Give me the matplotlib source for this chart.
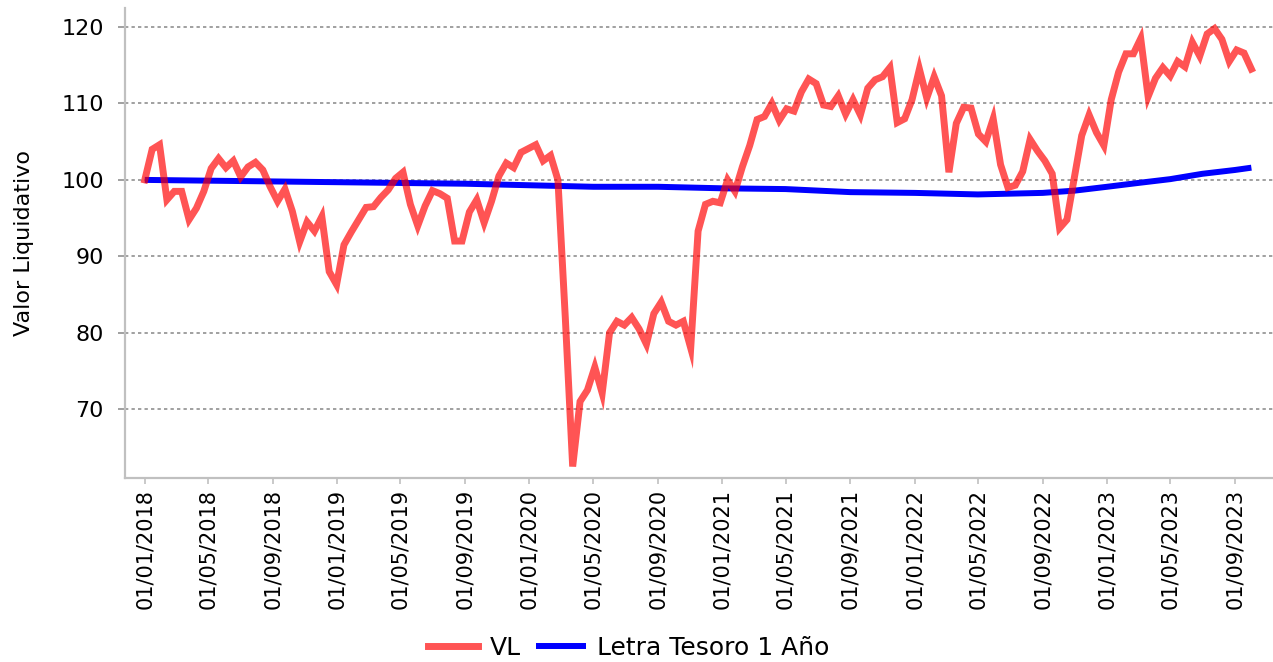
import numpy as np
import pandas as pd
import matplotlib
matplotlib.use("Agg")
import matplotlib.pyplot as plt
import matplotlib.dates as mdates

# VL (valor liquidativo), one reading every 14 days from 01/01/2018
vl_start = "2018-01-01"
vl_values = [
    100.0, 104.0, 104.6, 97.4, 98.5, 98.5, 94.8, 96.3, 98.5, 101.5,
    102.8, 101.6, 102.5, 100.4, 101.7, 102.3, 101.3, 99.1, 97.2, 98.8,
    95.9, 91.9, 94.5, 93.3, 95.2, 88.0, 86.3, 91.5, 93.2, 94.8,
    96.4, 96.5, 97.7, 98.7, 100.2, 101.0, 96.8, 94.0, 96.6, 98.6,
    98.2, 97.6, 92.0, 92.0, 95.8, 97.4, 94.4, 97.2, 100.5, 102.2,
    101.6, 103.6, 104.1, 104.6, 102.5, 103.2, 100.0, 82.0, 62.5, 71.0,
    72.5, 75.5, 72.1, 80.0, 81.5, 81.0, 82.0, 80.5, 78.5, 82.5,
    84.0, 81.5, 81.0, 81.5, 78.0, 93.3, 96.8, 97.2, 97.0, 100.0,
    98.5, 101.7, 104.5, 107.9, 108.3, 110.0, 107.8, 109.3, 109.0, 111.5,
    113.2, 112.6, 109.8, 109.6, 111.0, 108.6, 110.5, 108.5, 112.0, 113.1,
    113.5, 114.7, 107.5, 108.0, 110.5, 114.5, 110.7, 113.5, 111.0, 101.0,
    107.4, 109.5, 109.4, 106.0, 105.0, 108.0, 102.0, 99.0, 99.3, 101.1,
    105.3, 103.8, 102.5, 100.8, 93.7, 94.8, 100.3, 105.8, 108.5, 106.2,
    104.5, 110.5, 114.1, 116.5, 116.5, 118.5, 110.9, 113.3, 114.7, 113.6,
    115.5, 114.8, 118.0, 116.2, 119.1, 119.8, 118.4, 115.5, 117.0, 116.6,
    114.5,
]

# Letra del Tesoro a 1 anyo
letra_dates = [
    "2018-01-01", "2018-05-01", "2018-09-01", "2019-01-01", "2019-05-01",
    "2019-09-01", "2020-01-01", "2020-05-01", "2020-09-01", "2021-01-01",
    "2021-05-01", "2021-09-01", "2022-01-01", "2022-05-01", "2022-09-01",
    "2022-11-01", "2023-01-01", "2023-03-01", "2023-05-01", "2023-07-01",
    "2023-09-01", "2023-10-02",
]
letra_values = [
    100.0, 99.9, 99.8, 99.7, 99.6,
    99.5, 99.3, 99.1, 99.1, 98.9,
    98.8, 98.4, 98.3, 98.1, 98.3,
    98.6, 99.1, 99.6, 100.1, 100.8,
    101.3, 101.6,
]

tick_dates = pd.date_range("2018-01-01", "2023-09-01", freq="4MS")
y_ticks = [70, 80, 90, 100, 110, 120]

vl_dates = pd.date_range(vl_start, periods=len(vl_values), freq="14D")
letra_dates = pd.to_datetime(letra_dates)

fig = plt.figure(figsize=(12.73, 6.62), dpi=100)
ax = fig.add_axes([0.098, 0.278, 0.902, 0.71])

ax.plot(letra_dates, letra_values, color="#0000ff", lw=4.3,
        label="Letra Tesoro 1 Año", zorder=2, solid_capstyle="butt")
ax.plot(vl_dates, vl_values, color="red", alpha=0.67, lw=5,
        label="VL", zorder=3, solid_joinstyle="miter")

ax.set_xlim(pd.Timestamp("2017-11-24"), pd.Timestamp("2023-11-12"))
ax.set_ylim(61.0, 122.5)

ax.set_yticks(y_ticks)
ax.set_xticks(tick_dates)
ax.xaxis.set_major_formatter(mdates.DateFormatter("%d/%m/%Y"))

ax.yaxis.grid(True, color="#909090", lw=1.2, linestyle=(0, (2, 1.9)))
ax.set_axisbelow(True)

for s in ["top", "right"]:
    ax.spines[s].set_visible(False)
for s in ["left", "bottom"]:
    ax.spines[s].set_color("#c0c0c0")
    ax.spines[s].set_linewidth(1.6)

ax.tick_params(axis="y", labelsize=16, length=5, width=1.2,
               color="#909090", pad=10)
ax.tick_params(axis="x", labelsize=15, length=4, width=1.2,
               color="#c0c0c0", pad=4, labelrotation=90)

ax.set_ylabel("Valor Liquidativo", fontsize=16)
ax.yaxis.set_label_coords(-0.079, 0.5)

handles, labels = ax.get_legend_handles_labels()
fig.legend(handles[::-1], labels[::-1], loc="center", ncol=2,
           bbox_to_anchor=(0.494, 0.021), frameon=False, fontsize=18,
           handlelength=2.0, handletextpad=0.47, columnspacing=0.6)

fig.savefig("out.png", dpi=100)
